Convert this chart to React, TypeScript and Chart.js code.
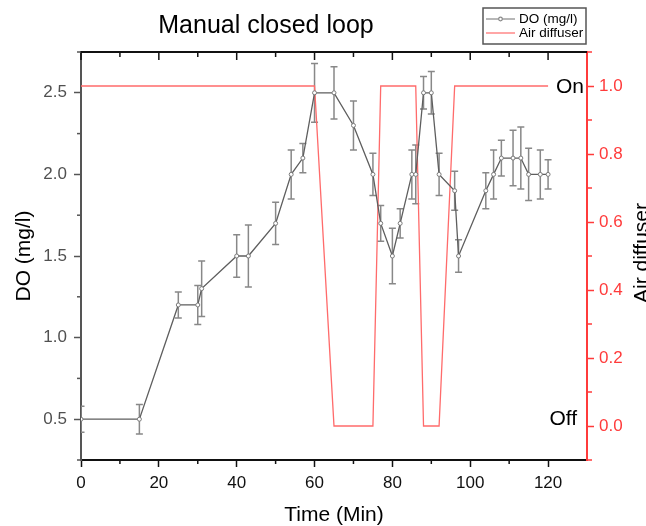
import React, { useEffect, useRef } from 'react';
import { Chart, registerables } from 'chart.js';
Chart.register(...registerables);

// DO measurements
const timeMin = [0, 15, 25, 30, 31, 40, 43, 50, 54, 57, 60, 65, 70, 75, 77, 80, 82, 85, 86, 88, 90, 92, 96, 97, 104, 106, 108, 111, 113, 115, 118, 120];
const doValues = [0.5, 0.5, 1.2, 1.2, 1.3, 1.5, 1.5, 1.7, 2.0, 2.1, 2.5, 2.5, 2.3, 2.0, 1.7, 1.5, 1.7, 2.0, 2.0, 2.5, 2.5, 2.0, 1.9, 1.5, 1.9, 2.0, 2.1, 2.1, 2.1, 2.0, 2.0, 2.0];
const doErrors = [0.08, 0.09, 0.08, 0.12, 0.17, 0.13, 0.19, 0.13, 0.15, 0.09, 0.18, 0.16, 0.15, 0.13, 0.11, 0.17, 0.09, 0.15, 0.18, 0.1, 0.13, 0.13, 0.12, 0.1, 0.11, 0.15, 0.11, 0.17, 0.19, 0.16, 0.15, 0.09];

// Air diffuser state (1 = On, 0 = Off)
const airTime = [0, 60, 65, 75, 77, 86, 88, 92, 96, 120];
const airState = [1, 1, 0, 0, 1, 1, 0, 0, 1, 1];

// Ticks
const xTicks = [0, 20, 40, 60, 80, 100, 120];
const xMinorTicks = [10, 30, 50, 70, 90, 110];
const leftTicks = [0.5, 1.0, 1.5, 2.0, 2.5];
const leftMinorTicks = [0.25, 0.75, 1.25, 1.75, 2.25, 2.75];
const rightTicks = [0, 0.2, 0.4, 0.6, 0.8, 1.0];
const rightMinorTicks = [-0.1, 0.1, 0.3, 0.5, 0.7, 0.9, 1.1];

const FONT = "'Liberation Sans', Arial, sans-serif";
const GRAY_AXIS = '#555555';
const RED_AXIS = '#ff3b3b';
const RED_LINE = '#ff6b6b';
const DO_LINE = '#5e5e5e';
const ERR_COLOR = '#888888';

export default function App() {
  const ref = useRef<HTMLCanvasElement>(null);

  useEffect(() => {
    document.body.style.margin = '0';
    const canvas = ref.current!;

    const overlay = {
      id: 'overlay',
      beforeDatasetsDraw(chart: any) {
        const ctx = chart.ctx;
        const xs = chart.scales.x;
        const ys = chart.scales.y;
        const a = chart.chartArea;
        ctx.save();
        ctx.beginPath();
        ctx.rect(a.left, a.top, a.right - a.left, a.bottom - a.top);
        ctx.clip();
        ctx.strokeStyle = ERR_COLOR;
        ctx.lineWidth = 1.5;
        for (let i = 0; i < timeMin.length; i++) {
          const x = xs.getPixelForValue(timeMin[i]);
          const yt = ys.getPixelForValue(doValues[i] + doErrors[i]);
          const yb = ys.getPixelForValue(doValues[i] - doErrors[i]);
          ctx.beginPath();
          ctx.moveTo(x, yt); ctx.lineTo(x, yb);
          ctx.moveTo(x - 3.5, yt); ctx.lineTo(x + 3.5, yt);
          ctx.moveTo(x - 3.5, yb); ctx.lineTo(x + 3.5, yb);
          ctx.stroke();
        }
        ctx.restore();
      },
      afterDraw(chart: any) {
        const ctx = chart.ctx;
        const xs = chart.scales.x;
        const ys = chart.scales.y;
        const yr = chart.scales.y1;
        const a = chart.chartArea;
        ctx.save();

        // top axis line and inward ticks
        ctx.strokeStyle = '#111';
        ctx.lineWidth = 2;
        ctx.beginPath();
        ctx.moveTo(a.left - 1, a.top); ctx.lineTo(a.right, a.top);
        ctx.stroke();
        ctx.lineWidth = 1.5;
        for (let v = 0; v <= 120; v += 10) {
          const x = xs.getPixelForValue(v);
          const len = v % 20 === 0 ? 8 : 5;
          ctx.beginPath(); ctx.moveTo(x, a.top); ctx.lineTo(x, a.top + len); ctx.stroke();
        }
        // bottom minor ticks
        for (const v of xMinorTicks) {
          const x = xs.getPixelForValue(v);
          ctx.beginPath(); ctx.moveTo(x, a.bottom); ctx.lineTo(x, a.bottom + 4); ctx.stroke();
        }
        // left minor ticks
        ctx.strokeStyle = GRAY_AXIS;
        for (const v of leftMinorTicks) {
          const y = ys.getPixelForValue(v);
          ctx.beginPath(); ctx.moveTo(a.left, y); ctx.lineTo(a.left - 4, y); ctx.stroke();
        }
        // right minor ticks
        ctx.strokeStyle = RED_AXIS;
        for (const v of rightMinorTicks) {
          const y = yr.getPixelForValue(v);
          ctx.beginPath(); ctx.moveTo(a.right, y); ctx.lineTo(a.right + 5, y); ctx.stroke();
        }

        // Title
        ctx.fillStyle = '#000';
        ctx.font = `25px ${FONT}`;
        ctx.textAlign = 'center';
        ctx.textBaseline = 'alphabetic';
        ctx.fillText('Manual closed loop', 266, 33);

        // Axis titles
        ctx.font = `21px ${FONT}`;
        ctx.fillText('Time (Min)', (a.left + a.right) / 2, 521);
        ctx.save();
        ctx.translate(30, (a.top + a.bottom) / 2);
        ctx.rotate(-Math.PI / 2);
        ctx.fillText('DO (mg/l)', 0, 0);
        ctx.restore();
        ctx.save();
        ctx.translate(648, (a.top + a.bottom) / 2 - 3);
        ctx.rotate(-Math.PI / 2);
        ctx.fillText('Air diffuser', 0, 0);
        ctx.restore();

        // On / Off annotations
        ctx.font = `21px ${FONT}`;
        ctx.textAlign = 'right';
        ctx.textBaseline = 'middle';
        ctx.fillText('On', 584, yr.getPixelForValue(1.0) + 1);
        ctx.fillText('Off', 577, yr.getPixelForValue(0) - 7);

        // Legend
        const lx = 483, ly = 8, lw = 103, lh = 36;
        ctx.fillStyle = '#fff';
        ctx.fillRect(lx, ly, lw, lh);
        ctx.strokeStyle = '#555';
        ctx.lineWidth = 1.5;
        ctx.strokeRect(lx, ly, lw, lh);
        ctx.lineWidth = 1.2;
        ctx.strokeStyle = '#888';
        ctx.beginPath(); ctx.moveTo(486, 19); ctx.lineTo(515, 19); ctx.stroke();
        ctx.fillStyle = '#fff';
        ctx.beginPath(); ctx.arc(500.5, 19, 1.8, 0, Math.PI * 2); ctx.fill(); ctx.stroke();
        ctx.strokeStyle = RED_LINE;
        ctx.beginPath(); ctx.moveTo(486, 33); ctx.lineTo(515, 33); ctx.stroke();
        ctx.fillStyle = '#000';
        ctx.font = `13.5px ${FONT}`;
        ctx.textAlign = 'left';
        ctx.textBaseline = 'middle';
        ctx.fillText('DO (mg/l)', 519, 19);
        ctx.fillText('Air diffuser', 519, 33.5);

        ctx.restore();
      },
    };

    const chart = new Chart(canvas, {
      type: 'line',
      data: {
        datasets: [
          {
            label: 'Air diffuser',
            data: airTime.map((t, i) => ({ x: t, y: airState[i] })),
            yAxisID: 'y1',
            borderColor: RED_LINE,
            borderWidth: 1.3,
            pointRadius: 0,
            tension: 0,
            order: 2,
          },
          {
            label: 'DO (mg/l)',
            data: timeMin.map((t, i) => ({ x: t, y: doValues[i] })),
            yAxisID: 'y',
            borderColor: DO_LINE,
            borderWidth: 1.3,
            pointRadius: 2,
            pointBorderWidth: 1,
            pointBackgroundColor: '#ffffff',
            pointBorderColor: '#7a7a7a',
            tension: 0,
            order: 1,
          },
        ],
      },
      options: {
        responsive: false,
        animation: false,
        layout: { padding: { top: 52, left: 0, right: 0, bottom: 0 } },
        plugins: { legend: { display: false }, tooltip: { enabled: false }, title: { display: false } },
        scales: {
          x: {
            type: 'linear',
            position: 'bottom',
            min: 0,
            max: 130,
            afterBuildTicks: (s: any) => { s.ticks = xTicks.map((v) => ({ value: v })); },
            afterFit: (s: any) => { s.height = 66; },
            ticks: { color: '#111', font: { family: FONT, size: 17 }, padding: 6, maxRotation: 0, callback: (v: any) => String(v) },
            grid: { drawOnChartArea: false, drawTicks: true, tickLength: 7, tickColor: '#111', tickWidth: 1.5 },
            border: { display: true, color: '#111', width: 2 },
          },
          y: {
            type: 'linear',
            position: 'left',
            min: 0.25,
            max: 2.75,
            afterBuildTicks: (s: any) => { s.ticks = leftTicks.map((v) => ({ value: v })); },
            afterFit: (s: any) => { s.width = 81; },
            ticks: { color: '#505050', font: { family: FONT, size: 17 }, padding: 7, callback: (v: any) => Number(v).toFixed(1) },
            grid: { drawOnChartArea: false, drawTicks: true, tickLength: 7, tickColor: GRAY_AXIS, tickWidth: 1.5 },
            border: { display: true, color: GRAY_AXIS, width: 2 },
          },
          y1: {
            type: 'linear',
            position: 'right',
            min: -0.1,
            max: 1.1,
            afterBuildTicks: (s: any) => { s.ticks = rightTicks.map((v) => ({ value: v })); },
            afterFit: (s: any) => { s.width = 59; },
            ticks: { color: RED_AXIS, font: { family: FONT, size: 17 }, padding: 5, callback: (v: any) => Number(v).toFixed(1) },
            grid: { drawOnChartArea: false, drawTicks: true, tickLength: 7, tickColor: RED_AXIS, tickWidth: 1.5 },
            border: { display: true, color: RED_AXIS, width: 2 },
          },
        },
      },
      plugins: [overlay],
    } as any);

    return () => chart.destroy();
  }, []);

  return (
    <div style={{ width: 646, height: 526 }}>
      <canvas ref={ref} width={646} height={526} style={{ display: 'block', width: 646, height: 526 }} />
    </div>
  );
}
